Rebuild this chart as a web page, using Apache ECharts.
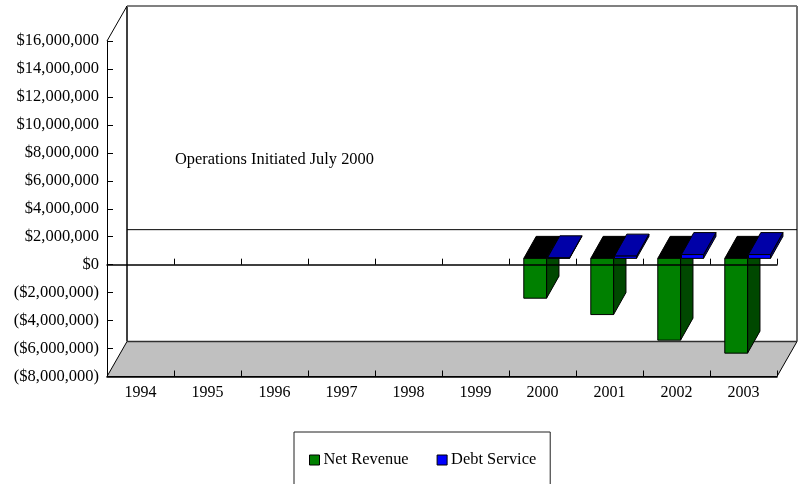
<!DOCTYPE html>
<html>
<head>
<meta charset="utf-8">
<style>html,body{margin:0;padding:0;background:#fff}#c{width:799px;height:484px}</style>
<script src="https://cdn.jsdelivr.net/npm/echarts@6/dist/echarts.min.js"></script>
</head>
<body>
<div id="c"></div>
<script>
const categories = ['1994','1995','1996','1997','1998','1999','2000','2001','2002','2003'];
const netRevenue = [null,null,null,null,null,null,-2850000,-4020000,-5850000,-6780000];
const debtService = [null,null,null,null,null,null,40000,160000,270000,270000];
const yTicks = {min:-8000000,max:16000000,interval:2000000};
const note = 'Operations Initiated July 2000';
const FONT = '"Liberation Serif","Times New Roman",serif';

// depth projection
const WALL = [20,-35];        // front plane -> back wall
const BAR_FRONT = [3.6,-6.3]; // front plane -> front of bars
const BAR_DEPTH = [12.4,-22]; // bar depth
const P = (pt,d)=>[pt[0]+d[0],pt[1]+d[1]];
const poly = (pts,fill,extra)=>Object.assign({type:'polygon',shape:{points:pts},
  style:{fill:fill,stroke:'#000',lineWidth:1}},extra||{});
const line = (a,b,color,w)=>({type:'line',shape:{x1:a[0],y1:a[1],x2:b[0],y2:b[1]},style:{stroke:color,lineWidth:w}});

function frame(params,api){
  const g = params.coordSys;
  const z = api.coord([0,0])[1];
  const fl=g.x, fr=g.x+g.width, ft=g.y, fb=g.y+g.height;
  const bl=fl+WALL[0], br=fr+WALL[0], bt=ft+WALL[1], bb=fb+WALL[1], bz=z+WALL[1];
  return {type:'group',children:[
    poly([[fl,fb],[fr,fb],[br,bb],[bl,bb]],'#c0c0c0'),
    line([bl,bt],[bl,bb],'#404040',2),
    line([bl,bt],[br,bt],'#808080',2),
    line([br,bt],[br,bb],'#707070',2),
    line([bl,bb],[br,bb],'#303030',1.5),
    line([bl,bz],[br,bz],'#000',1),
    line([fl,ft],[bl,bt],'#000',1)
  ]};
}
function bar(offsetFrac,widthFrac,front,side,top){
  return function(params,api){
    const v = api.value(1);
    if(v==null||isNaN(v)) return null;
    const band = api.size([1,0])[0];
    const zero = api.coord([api.value(0),0]);
    const val = api.coord([api.value(0),v]);
    const x0 = zero[0]+BAR_FRONT[0]+band*offsetFrac;
    const x1 = x0+band*widthFrac;
    const y0 = zero[1]+BAR_FRONT[1], y1 = val[1]+BAR_FRONT[1];
    const yt = Math.min(y0,y1), yb = Math.max(y0,y1);
    return {type:'group',children:[
      poly([[x1,yt],P([x1,yt],BAR_DEPTH),P([x1,yb],BAR_DEPTH),[x1,yb]],side),
      poly([[x0,yt],[x1,yt],P([x1,yt],BAR_DEPTH),P([x0,yt],BAR_DEPTH)],top),
      poly([[x0,yt],[x1,yt],[x1,yb],[x0,yb]],front)
    ]};
  };
}
function money(v){
  const s = Math.abs(v).toString().replace(/\B(?=(\d{3})+$)/g,',');
  return v<0 ? '($'+s+')' : '$'+s;
}
const chart = echarts.init(document.getElementById('c'),null,{renderer:'canvas'});
chart.setOption({
  animation:false,
  backgroundColor:'#fff',
  textStyle:{fontFamily:FONT,color:'#000'},
  title:{text:note,left:175,top:152,textStyle:{fontFamily:FONT,fontSize:16.4,fontWeight:'normal',color:'#000'},padding:0},
  legend:{
    data:[{name:'Net Revenue',icon:'rect',itemStyle:{color:'#008000',borderColor:'#000',borderWidth:1}},
          {name:'Debt Service',icon:'rect',itemStyle:{color:'#0000ff',borderColor:'#000',borderWidth:1}}],
    left:294,top:432,orient:'horizontal',
    padding:[20,14,18,15],
    itemWidth:10,itemHeight:10,itemGap:28,
    borderColor:'#202020',borderWidth:1,backgroundColor:'#fff',
    textStyle:{fontFamily:FONT,fontSize:16.4,color:'#000',padding:[0,0,0,-1]}
  },
  grid:{left:107,right:22,top:41,bottom:107.5,containLabel:false},
  xAxis:[
    {type:'category',data:categories,position:'bottom',
     axisLine:{onZero:false,lineStyle:{color:'#000',width:1.5}},
     axisTick:{show:true,inside:true,length:6,lineStyle:{color:'#000'}},
     axisLabel:{fontFamily:FONT,fontSize:16,color:'#000',margin:8},z:6},
    {type:'category',data:categories,position:'bottom',
     axisLine:{onZero:true,lineStyle:{color:'#000',width:1.5}},
     axisTick:{show:true,inside:true,length:6,lineStyle:{color:'#000'}},
     axisLabel:{show:false},z:6}
  ],
  yAxis:{type:'value',min:yTicks.min,max:yTicks.max,interval:yTicks.interval,
    axisLine:{show:true,onZero:false,lineStyle:{color:'#000',width:1}},
    axisTick:{show:true,inside:true,length:6,lineStyle:{color:'#000'}},
    axisLabel:{fontFamily:FONT,fontSize:16.5,color:'#000',margin:8,formatter:money,padding:[4,0,0,0]},
    splitLine:{show:false},z:6},
  series:[
    {type:'custom',name:'frame',silent:true,z:1,data:[[0,0]],renderItem:frame,encode:{x:0,y:1}},
    {type:'custom',name:'Net Revenue',z:2,itemStyle:{color:'#008000'},
     renderItem:bar(-0.333,0.34,'#008000','#004800','#000000'),
     data:netRevenue.map((v,i)=>[i,v]),encode:{x:0,y:1}},
    {type:'custom',name:'Debt Service',z:3,itemStyle:{color:'#0000ff'},
     renderItem:bar(0.02,0.33,'#0000ff','#000080','#0000a8'),
     data:debtService.map((v,i)=>[i,v]),encode:{x:0,y:1}}
  ]
});
</script>
</body>
</html>
